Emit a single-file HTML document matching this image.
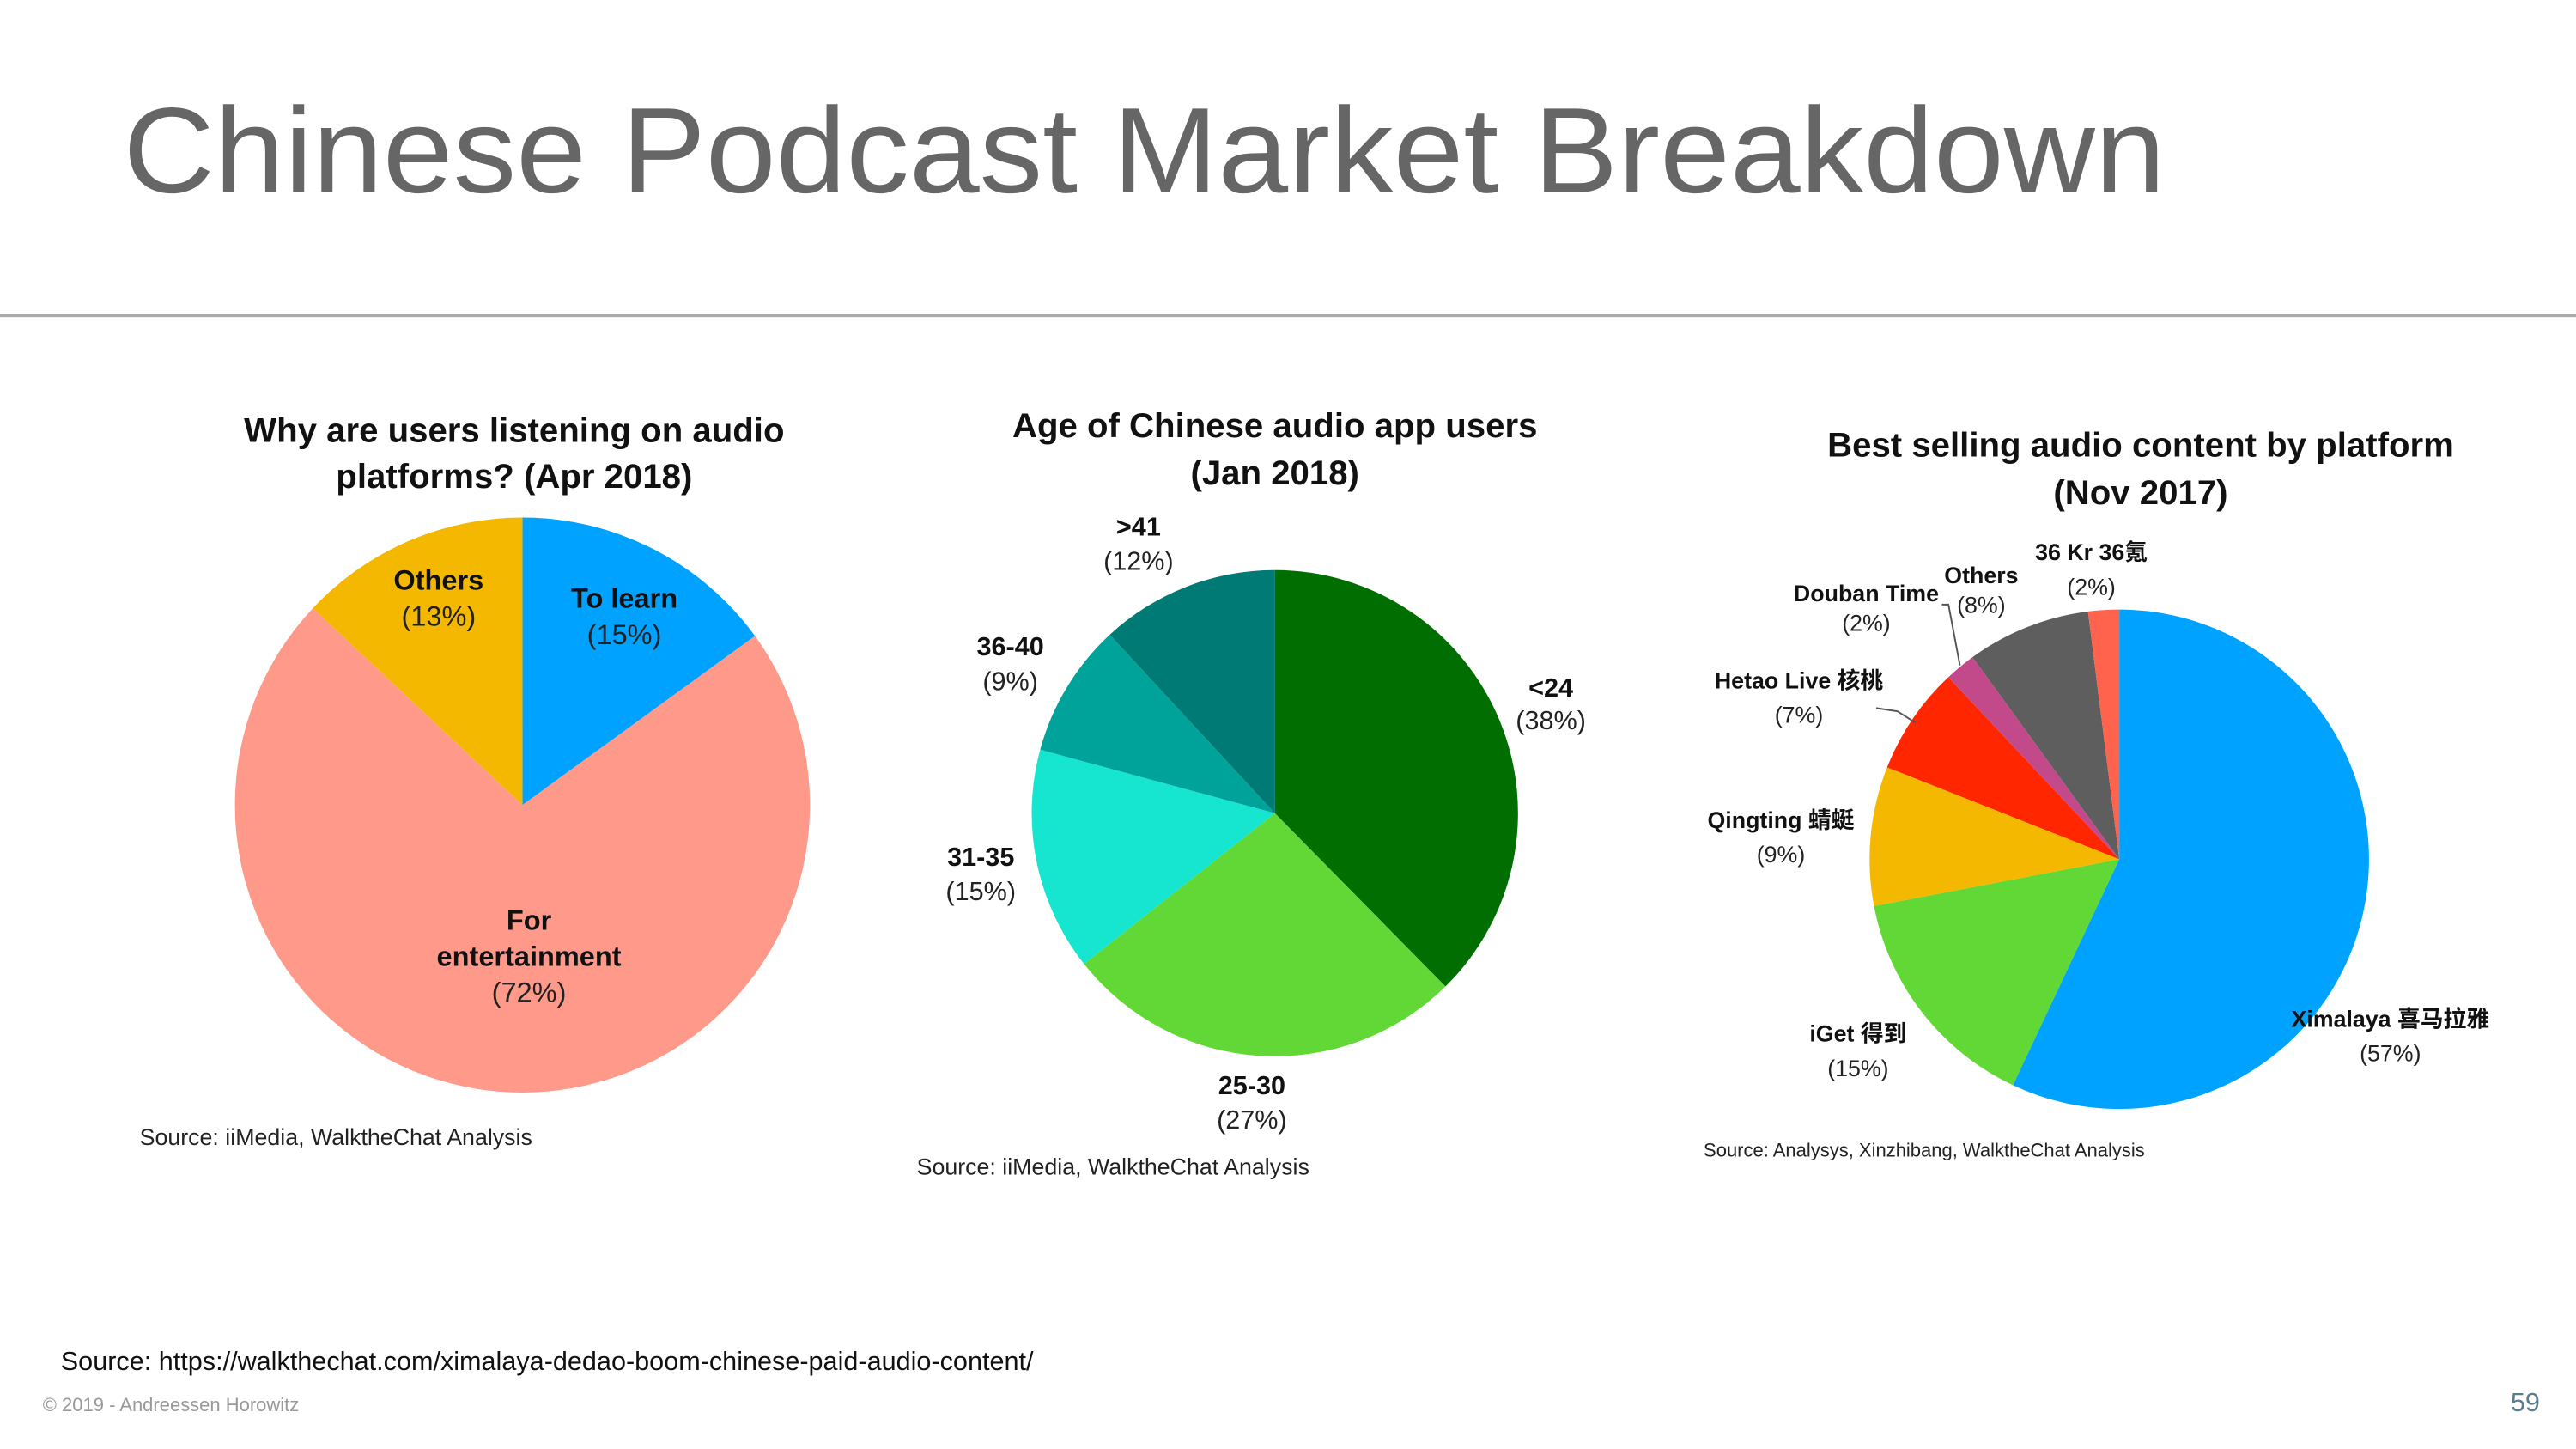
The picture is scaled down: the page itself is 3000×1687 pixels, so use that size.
<!DOCTYPE html>
<html><head><meta charset="utf-8"><style>
html,body{margin:0;padding:0;background:#fff;}
svg{display:block;}
text{font-family:"Liberation Sans","Noto Sans CJK SC",sans-serif;}
.b{font-weight:bold;fill:#111;}
.n{fill:#222;}
</style></head><body>
<svg id="svg" width="3000" height="1687" viewBox="0 0 1568 882" preserveAspectRatio="none">
<text x="75" y="117" font-size="74" fill="#666" textLength="1243" lengthAdjust="spacingAndGlyphs">Chinese Podcast Market Breakdown</text>
<rect x="0" y="191" width="1568" height="2" fill="#aaa"/>

<g font-size="21" class="b" text-anchor="middle">
<text x="313" y="269" class="b">Why are users listening on audio</text>
<text x="313" y="297" class="b">platforms? (Apr 2018)</text></g>
<g id="pie1"></g>
<g font-size="17" text-anchor="middle">
<text x="380" y="370" class="b">To learn</text><text x="380" y="392" class="n">(15%)</text>
<text x="267" y="359" class="b">Others</text><text x="267" y="381" class="n">(13%)</text>
<text x="322" y="566" class="b">For</text><text x="322" y="588" class="b">entertainment</text><text x="322" y="610" class="n">(72%)</text>
</g>
<text x="85" y="697" font-size="14" class="n">Source:  iiMedia,  WalktheChat  Analysis</text>

<g font-size="21" text-anchor="middle">
<text x="776" y="266" class="b">Age of Chinese audio app users</text>
<text x="776" y="295" class="b">(Jan 2018)</text></g>
<g id="pie2"></g>
<g font-size="16" text-anchor="middle">
<text x="944" y="424" class="b">&lt;24</text><text x="944" y="444" class="n">(38%)</text>
<text x="762" y="666" class="b">25-30</text><text x="762" y="687" class="n">(27%)</text>
<text x="597" y="527" class="b">31-35</text><text x="597" y="548" class="n">(15%)</text>
<text x="615" y="399" class="b">36-40</text><text x="615" y="420" class="n">(9%)</text>
<text x="693" y="326" class="b">&gt;41</text><text x="693" y="347" class="n">(12%)</text>
</g>
<text x="558" y="715" font-size="14" class="n">Source:  iiMedia,  WalktheChat  Analysis</text>

<g font-size="21" text-anchor="middle">
<text x="1303" y="278" class="b">Best selling audio content by platform</text>
<text x="1303" y="307" class="b">(Nov 2017)</text></g>
<g id="pie3"></g>
<g font-size="14" text-anchor="middle">
<text x="1455" y="625" class="b">Ximalaya 喜马拉雅</text><text x="1455" y="646" class="n">(57%)</text>
<text x="1131" y="634" class="b">iGet 得到</text><text x="1131" y="655" class="n">(15%)</text>
<text x="1084" y="504" class="b">Qingting 蜻蜓</text><text x="1084" y="525" class="n">(9%)</text>
<text x="1095" y="419" class="b">Hetao Live 核桃</text><text x="1095" y="440" class="n">(7%)</text>
<text x="1136" y="366" class="b">Douban Time</text><text x="1136" y="384" class="n">(2%)</text>
<text x="1206" y="355" class="b">Others</text><text x="1206" y="373" class="n">(8%)</text>
<text x="1273" y="341" class="b">36 Kr 36氪</text><text x="1273" y="362" class="n">(2%)</text>
</g>
<path d="M1182,368 L1186,368 L1193,405" stroke="#555" fill="none" stroke-width="1"/>
<path d="M1142,431 L1155,433 L1166,440" stroke="#555" fill="none" stroke-width="1"/>
<text x="1037" y="704" font-size="11.5" class="n">Source:  Analysys, Xinzhibang, WalktheChat Analysis</text>

<text x="37" y="834" font-size="16" fill="#111">Source: https://walkthechat.com/ximalaya-dedao-boom-chinese-paid-audio-content/</text>
<text x="26" y="859" font-size="11.5" fill="#999">© 2019 - Andreessen Horowitz</text>
<text x="1546" y="859" font-size="16" fill="#5a7d8c" text-anchor="end">59</text>
</svg>
<script>
const reasonCats=["To learn","For entertainment","Others"];
const reasonVals=[15,72,13];
const ageCats=["<24","25-30","31-35","36-40",">41"];
const ageVals=[38,27,15,9,12];
const platCats=["Ximalaya","iGet","Qingting","Hetao Live","Douban Time","Others","36 Kr"];
const platVals=[57,15,9,7,2,8,2];
const NS="http://www.w3.org/2000/svg";
function drawPie(id,cats,vals,colors,cx,cy,r){
  const g=document.getElementById(id);
  const tot=vals.reduce((a,b)=>a+b,0);
  let a0=0;
  vals.forEach((v,i)=>{
    const a1=a0+v/tot*2*Math.PI;
    const x0=cx+r*Math.sin(a0),y0=cy-r*Math.cos(a0);
    const x1=cx+r*Math.sin(a1),y1=cy-r*Math.cos(a1);
    const large=(a1-a0)>Math.PI?1:0;
    const p=document.createElementNS(NS,"path");
    p.setAttribute("d",`M${cx},${cy} L${x0},${y0} A${r},${r} 0 ${large} 1 ${x1},${y1} Z`);
    p.setAttribute("fill",colors[i]);
    
    
    g.appendChild(p);
    a0=a1;
  });
}
drawPie("pie1",reasonCats,reasonVals,["#00A2FF","#FF9A8A","#F5B800"],318,490,175);
drawPie("pie2",ageCats,ageVals,["#006E00","#62D836","#16E5D0","#00A39A","#007A75"],776,495,148);
drawPie("pie3",platCats,platVals,["#00A2FF","#62D836","#F5B800","#FF2600","#C2498A","#5E5E5E","#FF634D"],1290,523,152);
</script>
</body></html>
